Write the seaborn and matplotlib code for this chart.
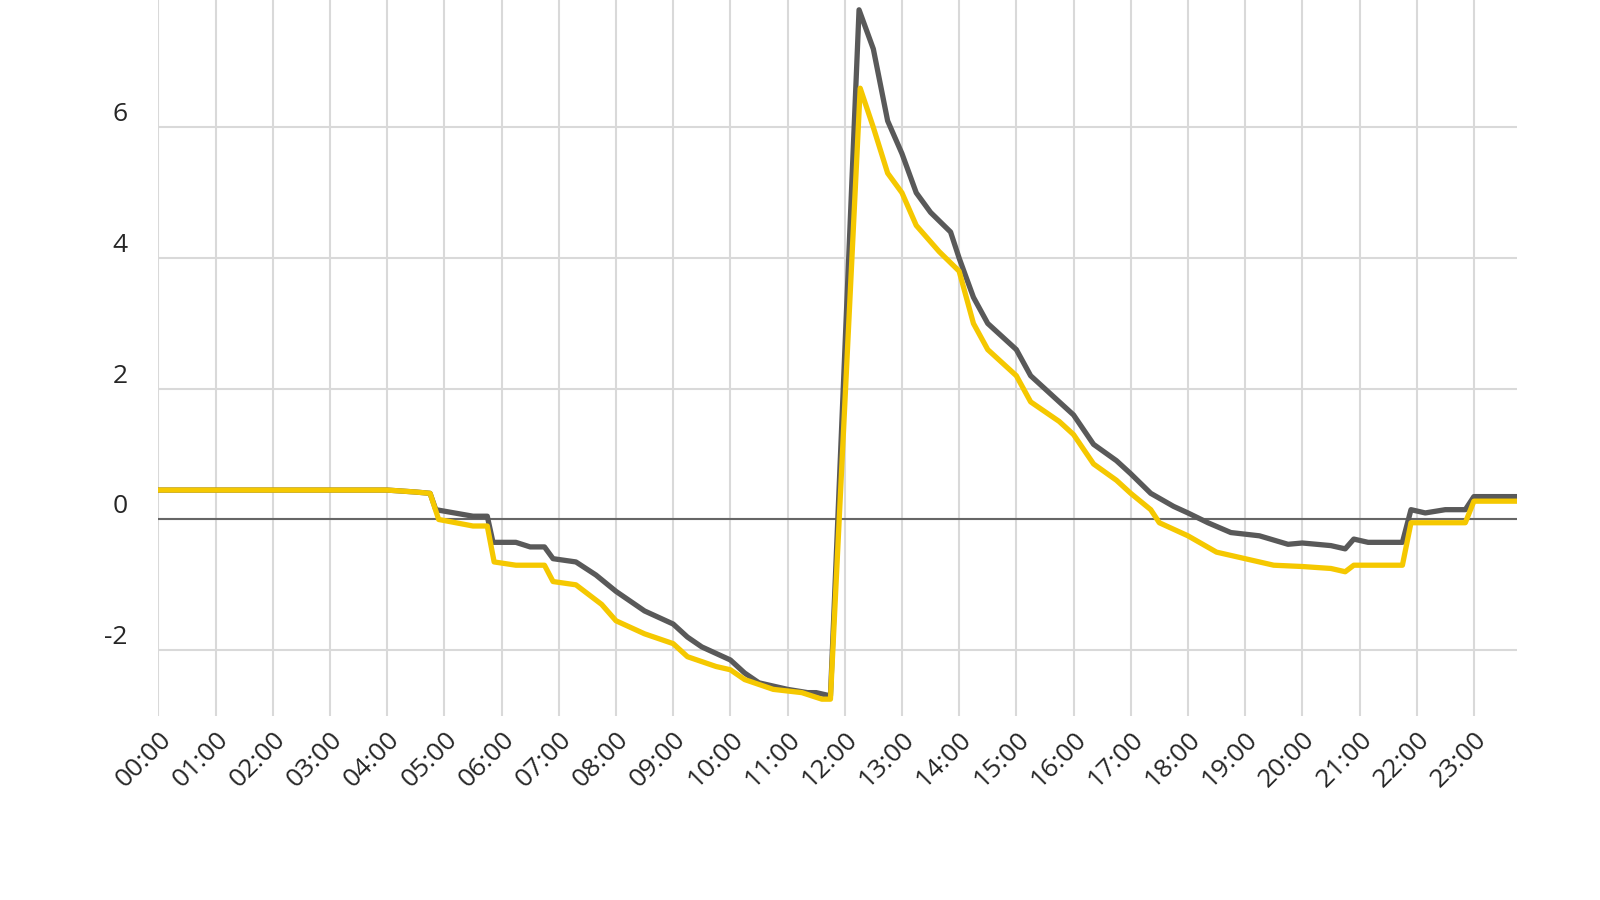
import numpy as np
import pandas as pd
import matplotlib.pyplot as plt
import seaborn as sns

# hours of day (decimal) and values for each series
gray_t = [0, 4, 4.5, 4.75, 4.85, 5.5, 5.75, 5.85, 6.25, 6.5, 6.75, 6.9, 7.3, 7.65, 8.0, 8.5, 9.0, 9.25, 9.5,
          10.0, 10.25, 10.5, 11.0, 11.35, 11.5, 11.75, 12.25, 12.5, 12.75, 13.0, 13.25, 13.5, 13.85, 14.0, 14.25,
          14.5, 15.0, 15.25, 15.5, 16.0, 16.35, 16.75, 17.0, 17.35, 17.75, 18.0, 18.35, 18.75, 19.25, 19.75, 20.0,
          20.5, 20.75, 20.9, 21.15, 21.75, 21.9, 22.15, 22.5, 22.85, 23.0, 23.75]
gray_v = [0.45, 0.45, 0.42, 0.4, 0.15, 0.05, 0.05, -0.35, -0.35, -0.42, -0.42, -0.6, -0.65, -0.85, -1.1, -1.4,
          -1.6, -1.8, -1.95, -2.15, -2.35, -2.5, -2.6, -2.65, -2.65, -2.7, 7.8, 7.2, 6.1, 5.6, 5.0, 4.7, 4.4, 4.0,
          3.4, 3.0, 2.6, 2.2, 2.0, 1.6, 1.15, 0.9, 0.7, 0.4, 0.2, 0.1, -0.05, -0.2, -0.25, -0.38, -0.36, -0.4,
          -0.45, -0.3, -0.35, -0.35, 0.15, 0.1, 0.15, 0.15, 0.35, 0.35]
yellow_t = [0, 4, 4.5, 4.75, 4.9, 5.5, 5.75, 5.87, 6.25, 6.75, 6.9, 7.3, 7.75, 8.0, 8.5, 9.0, 9.25, 9.75, 10.0,
            10.25, 10.75, 11.25, 11.6, 11.75, 12.27, 12.5, 12.75, 13.0, 13.25, 13.65, 14.0, 14.25, 14.5, 15.0,
            15.25, 15.75, 16.0, 16.35, 16.75, 17.0, 17.35, 17.5, 18.0, 18.5, 19.0, 19.5, 20.0, 20.5, 20.75, 20.9,
            21.75, 21.9, 22.85, 23.0, 23.75]
yellow_v = [0.45, 0.45, 0.42, 0.4, 0.0, -0.1, -0.1, -0.65, -0.7, -0.7, -0.95, -1.0, -1.3, -1.55, -1.75, -1.9,
            -2.1, -2.25, -2.3, -2.45, -2.6, -2.65, -2.75, -2.75, 6.6, 6.0, 5.3, 5.0, 4.5, 4.1, 3.8, 3.0, 2.6, 2.2,
            1.8, 1.5, 1.3, 0.85, 0.6, 0.4, 0.15, -0.05, -0.25, -0.5, -0.6, -0.7, -0.72, -0.75, -0.8, -0.7, -0.7,
            -0.05, -0.05, 0.28, 0.28]
hour_labels = ["%02d:00" % h for h in range(24)]
y_ticks = [-2, 0, 2, 4, 6]

sns.set_theme(style="white")
plt.rcParams['font.family'] = ['Open Sans', 'DejaVu Sans']

fig, ax = plt.subplots(figsize=(16, 9), dpi=100)
fig.subplots_adjust(left=0.099, right=0.948, top=1.0, bottom=0.205)

for h in range(24):
    ax.axvline(h, color="#d9d9d9", lw=1.5, zorder=0)
for y in y_ticks:
    ax.axhline(y, color="#d9d9d9", lw=1.5, zorder=0)
ax.axhline(0, color="#666666", lw=1.5, zorder=1)

sns.lineplot(x=gray_t, y=gray_v, color="#595959", lw=3.8, ax=ax)
sns.lineplot(x=yellow_t, y=yellow_v, color="#f5c800", lw=3.8, ax=ax)

ax.set_xlim(0, 23.75)
ax.set_ylim(-3.0, 7.95)
ax.set_xticks(range(24))
ax.set_xticklabels(hour_labels, rotation=45, ha="right", rotation_mode="anchor", fontsize=19)
ax.set_yticks(y_ticks)
ax.set_yticklabels([str(v) for v in y_ticks], fontsize=19, va="bottom")
ax.tick_params(axis="y", length=0, pad=22)
ax.tick_params(axis="x", length=0, pad=8)
for s in ax.spines.values():
    s.set_visible(False)

fig.savefig("out.png", dpi=100)
